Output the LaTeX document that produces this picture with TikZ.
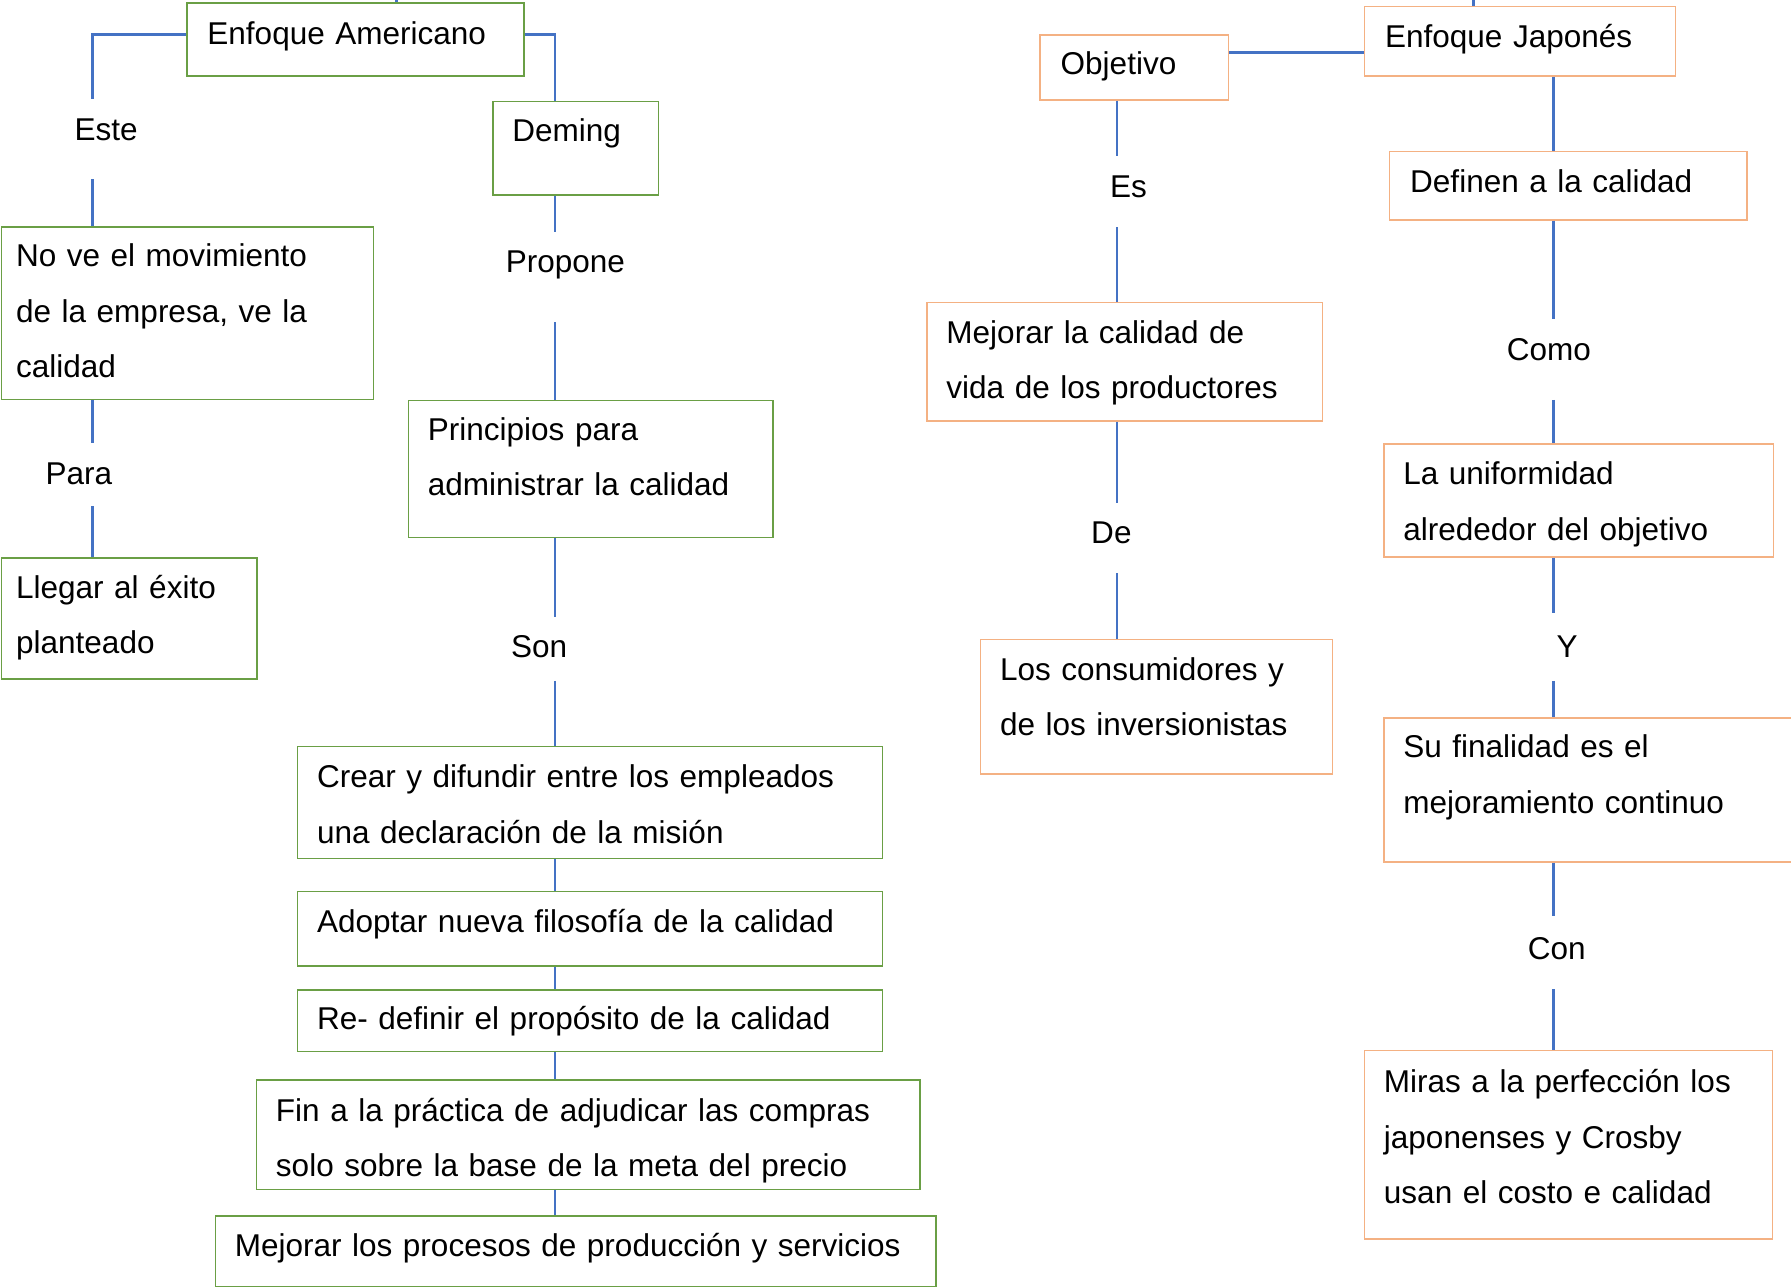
\documentclass[tikz,border=0pt]{standalone}
\usepackage{fontspec}
\setmainfont{Liberation Sans}
\usetikzlibrary{calc}
\definecolor{cblue}{HTML}{4472C4}
\definecolor{cgreen}{HTML}{6A9F45}
\definecolor{corange}{HTML}{F4B183}
\tikzset{
  box/.style={draw, line width=1.2pt, anchor=north west, inner ysep=0pt, align=left,
    font=\fontsize{27.6}{48.5}\selectfont},
  gbox/.style={box, draw=cgreen},
  obox/.style={box, draw=corange},
  lbl/.style={anchor=base, inner sep=0pt, font=\fontsize{27.6}{48.5}\selectfont},
  conn/.style={draw=cblue, line width=2.2pt}
}
\begin{document}
\begin{tikzpicture}[x=1pt, y=-1pt]
\useasboundingbox (0,0) rectangle (1568,1126.75);
\fill[white] (0,0) rectangle (1568,1126.75);
\clip (0,0) rectangle (1568,1126.75);

% ---------- Enfoque Americano (green) ----------
\node[gbox, minimum width=295pt, text width=259pt, inner xsep=18pt, text height=36pt, text depth=28pt] (ea) at (163,2) {Enfoque Americano};
\node[gbox, minimum width=145pt, text width=111pt, inner xsep=17pt, text height=35pt, text depth=47pt] (dem) at (431,88) {Deming};
\node[gbox, minimum width=326pt, text width=300pt, inner xsep=13pt, text height=35pt, text depth=116pt] (nove) at (0.5,198) {No ve el movimiento\\de la empresa, ve la\\calidad};
\node[gbox, minimum width=224pt, text width=198pt, inner xsep=13pt, text height=35pt, text depth=71pt] (lleg) at (0.5,488) {Llegar al éxito\\planteado};
\node[gbox, minimum width=319pt, text width=285pt, inner xsep=17pt, text height=35pt, text depth=85pt] (prin) at (357,350) {Principios para\\administrar la calidad};
\node[gbox, minimum width=512pt, text width=478pt, inner xsep=17pt, text height=36pt, text depth=62pt] (crear) at (260,653) {Crear y difundir entre los empleados\\una declaración de la misión};
\node[gbox, minimum width=512pt, text width=478pt, inner xsep=17pt, text height=36pt, text depth=29pt] (adop) at (260,780) {Adoptar nueva filosofía de la calidad};
\node[gbox, minimum width=512pt, text width=478pt, inner xsep=17pt, text height=35pt, text depth=19pt] (redef) at (260,866) {Re- definir el propósito de la calidad};
\node[gbox, minimum width=581pt, text width=547pt, inner xsep=17pt, text height=36pt, text depth=60pt] (fin) at (224,945) {Fin a la práctica de adjudicar las compras\\solo sobre la base de la meta del precio};
\node[gbox, minimum width=631pt, text width=597pt, inner xsep=17pt, text height=35pt, text depth=27pt] (mejp) at (188,1064) {Mejorar los procesos de producción y servicios};

% ---------- Enfoque Japonés (orange) ----------
\node[obox, minimum width=165pt, text width=129pt, inner xsep=18pt, text height=35pt, text depth=22pt] (obj) at (910,30) {Objetivo};
\node[obox, minimum width=272pt, text width=236pt, inner xsep=18pt, text height=36pt, text depth=25pt] (ej) at (1194,5) {Enfoque Japonés};
\node[obox, minimum width=346pt, text width=312pt, inner xsep=17pt, text height=36pt, text depth=68pt] (mejv) at (811,264) {Mejorar la calidad de\\vida de los productores};
\node[obox, minimum width=308pt, text width=274pt, inner xsep=17pt, text height=36pt, text depth=82pt] (cons) at (858,559) {Los consumidores y\\de los inversionistas};
\node[obox, minimum width=313pt, text width=277pt, inner xsep=18pt, text height=36pt, text depth=24pt] (def) at (1216,132) {Definen a la calidad};
\node[obox, minimum width=341pt, text width=307pt, inner xsep=17pt, text height=36pt, text depth=63pt] (unif) at (1211,388) {La uniformidad\\alrededor del objetivo};
\node[obox, minimum width=380pt, text width=346pt, inner xsep=17pt, text height=35pt, text depth=91pt] (fina) at (1211,628) {Su finalidad es el\\mejoramiento continuo};
\node[obox, minimum width=357pt, text width=323pt, inner xsep=17pt, text height=37pt, text depth=128pt] (miras) at (1194,919) {Miras a la perfección los\\japonenses y Crosby\\usan el costo e calidad};

% ---------- link words ----------
\node[lbl] (este) at (93,123) {Este};
\node[lbl] (prop) at (495,239) {Propone};
\node[lbl] (para) at (69,424) {Para};
\node[lbl] (son) at (472,576) {Son};
\node[lbl] (es) at (988,173) {Es};
\node[lbl] (de) at (973,476) {De};
\node[lbl] (como) at (1356,316) {Como};
\node[lbl] (yy) at (1372,576) {Y};
\node[lbl] (con) at (1363,840) {Con};

% ---------- connector end points ----------
\coordinate (e1) at (81,87);   \coordinate (e2) at (81,157);
\coordinate (p1) at (81,388);  \coordinate (p2) at (81,443);
\coordinate (d1) at (486,203); \coordinate (d2) at (486,282);
\coordinate (s1) at (486,540); \coordinate (s2) at (486,596);
\coordinate (o1) at (978,137); \coordinate (o2) at (978,199);
\coordinate (o3) at (978,440); \coordinate (o4) at (978,502);
\coordinate (j1) at (1360,279); \coordinate (j2) at (1360,350);
\coordinate (j3) at (1360,537); \coordinate (j4) at (1360,596);
\coordinate (j5) at (1360,802); \coordinate (j6) at (1360,866);
\coordinate (t1) at (347,0);   \coordinate (t2) at (1290,0);
\coordinate (h) at (0,46);

% ---------- connectors ----------
\draw[conn] ($(ea.north west)+(0,28)$) -| (e1);
\draw[conn] (e2) -- (e2 |- nove.north);
\draw[conn] (p1 |- nove.south) -- (p1);
\draw[conn] (p2) -- (p2 |- lleg.north);
\draw[conn] ($(ea.north east)+(0,28)$) -| (d1 |- dem.north);
\draw[conn] (d1 |- dem.south) -- (d1);
\draw[conn] (d2) -- (d2 |- prin.north);
\draw[conn] (s1 |- prin.south) -- (s1);
\draw[conn] (s2) -- (s2 |- crear.north);
\draw[conn] (s2 |- crear.south) -- (s2 |- adop.north);
\draw[conn] (s2 |- adop.south) -- (s2 |- redef.north);
\draw[conn] (s2 |- redef.south) -- (s2 |- fin.north);
\draw[conn] (s2 |- fin.south) -- (s2 |- mejp.north);
\draw[conn] (t1 |- ea.north) -- (t1);

\draw[conn] (obj.east |- h) -- (ej.west |- h);
\draw[conn] (o1 |- obj.south) -- (o1);
\draw[conn] (o2) -- (o2 |- mejv.north);
\draw[conn] (o3 |- mejv.south) -- (o3);
\draw[conn] (o4) -- (o4 |- cons.north);
\draw[conn] (j1 |- ej.south) -- (j1 |- def.north);
\draw[conn] (j1 |- def.south) -- (j1);
\draw[conn] (j2) -- (j2 |- unif.north);
\draw[conn] (j3 |- unif.south) -- (j3);
\draw[conn] (j4) -- (j4 |- fina.north);
\draw[conn] (j5 |- fina.south) -- (j5);
\draw[conn] (j6) -- (j6 |- miras.north);
\draw[conn] (t2 |- ej.north) -- (t2);
\end{tikzpicture}
\end{document}
